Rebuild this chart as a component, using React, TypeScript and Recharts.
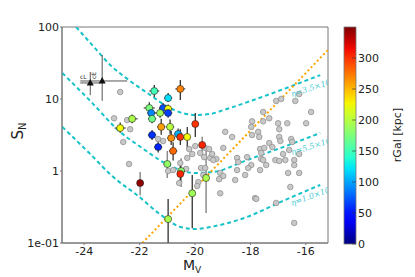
import React from 'react';
import { ComposedChart, Line, Scatter, XAxis, YAxis, ErrorBar, ReferenceArea } from 'recharts';

// field galaxies (grey)
const grayMV = [
  -22.7, -22.92, -22.45, -22.34, -22.59, -22.38, -21.33, -21.15, -20.97, -20.79,
  -20.53, -20.57, -20.21, -20.1, -20.28, -19.99, -19.63, -19.49, -19.81, -19.67,
  -19.45, -19.23, -20.32, -19.78, -19.63, -19.7, -19.88, -19.92, -19.09, -18.98,
  -19.13, -19.09, -19.38, -19.34, -18.91, -18.66, -18.98, -18.48, -18.12, -18.44,
  -17.97, -18.48, -18.19, -18.55, -17.94, -17.97, -17.94, -17.83, -17.72, -17.68,
  -17.65, -17.65, -17.61, -17.61, -17.54, -17.54, -17.43, -17.32, -17.32, -17.21,
  -17.07, -16.89, -16.38, -16.24, -15.81, -15.99, -17.0, -16.67, -16.96, -16.96,
  -16.92, -16.53, -16.49, -16.6, -17.1, -16.96, -16.74, -16.42, -16.42, -16.82,
  -16.24, -16.64, -16.24, -16.56, -17.07, -16.42, -17.79, -18.08, -17.54, -17.5,
];
const graySN = [
  12.5, 5.4, 5.1, 3.8, 2.53, 1.25, 2.78, 2.61, 1.0, 1.03,
  1.29, 0.68, 2.02, 1.72, 1.52, 2.22, 2.09, 2.02, 1.78, 1.56,
  1.52, 1.47, 1.07, 1.1, 1.1, 0.88, 0.7, 0.62, 0.94, 0.85,
  0.77, 0.49, 1.72, 1.42, 3.5, 2.97, 2.09, 1.52, 1.56, 1.33,
  1.21, 1.03, 0.88, 0.75, 4.9, 4.1, 3.16, 0.42, 3.5, 2.97,
  2.02, 1.03, 1.78, 1.47, 6.6, 4.9, 1.21, 5.4, 2.45, 2.15,
  9.4, 10, 9.4, 11.7, 6.6, 4.6, 4.6, 4.6, 3.8, 2.97,
  2.61, 2.78, 2.53, 1.96, 1.42, 1.38, 1.42, 1.42, 1.21, 1.72,
  1.72, 0.94, 0.94, 0.6, 0.36, 0.19, 0.41, 1.1, 1.42, 2.09,
];

// group galaxies, coloured by rGal
const grpMV = [
  -21.47, -20.53, -20.97, -21.65, -21.15, -20.97, -21.58, -21.26, -20.97, -21.55,
  -22.27, -22.7, -21.22, -20.9, -21.55, -20.61, -20.53, -20.86, -20.28, -19.99,
  -19.74, -21.33, -20.79, -21.0, -20.5, -20.53, -21.98, -19.6, -20.1, -20.97,
];
const grpSN = [
  12.9, 13.8, 10.3, 7.5, 7.5, 7.3, 6.4, 6.4, 6.4, 5.3,
  5.3, 3.95, 4.1, 4.1, 3.16, 3.27, 2.97, 2.87, 2.97, 4.5,
  2.3, 2.15, 1.9, 1.25, 1.0, 0.91, 0.68, 0.8, 0.49, 0.215,
];
const grpSNlo = [
  10.7, 9.7, 9.1, 6.5, 6.6, 6.2, 5.6, 5.5, 5.5, 4.6,
  4.6, 3.4, 3.2, 3.3, 2.7, 2.7, 2.3, 2.3, 1.96, 2.97,
  1.6, 1.8, 1.4, 0.8, 0.6, 0.7, 0.46, 0.26, 0.16, 0.1,
];
const grpSNhi = [
  15.7, 18.4, 12.1, 9.0, 8.8, 8.4, 7.3, 7.4, 7.4, 6.0,
  6.1, 4.7, 5.3, 5.2, 3.7, 3.9, 3.8, 3.6, 4.1, 6.4,
  3.0, 2.6, 2.5, 1.9, 1.5, 1.2, 0.97, 1.96, 0.88, 0.41,
];
const grpMVerr = [
  0.18, 0.18, 0.15, 0.2, 0.15, 0.15, 0.15, 0.2, 0.15, 0.15,
  0.2, 0.2, 0.15, 0.15, 0.15, 0.15, 0.15, 0.15, 0.1, 0.12,
  0.12, 0.15, 0.15, 0.15, 0.12, 0.12, 0.12, 0.1, 0.1, 0.1,
];
const grpRGal = [
  150, 270, 120, 175, 70, 225, 90, 190, 65, 170,
  195, 225, 260, 200, 60, 105, 300, 265, 225, 300,
  305, 55, 280, 185, 180, 305, 345, 195, 190, 195,
];
// 1 = error bar drawn in grey instead of black
const grpGreyBar = [
  0, 0, 0, 0, 0, 0, 0, 0, 0, 0,
  0, 0, 0, 0, 0, 0, 0, 0, 0, 0,
  1, 0, 0, 1, 1, 0, 1, 1, 0, 0,
];

// cL / cE reference points
const refMV = [-23.78, -23.35];
const refSN = [16.7, 17.8];
const refSNlo = [11.3, 9.4];
const refSNhi = [23.7, 40.8];
const refMVlo = [-24.14, -24.14];
const refMVhi = [-23.42, -22.45];

// model curves
const etaHighMV = [-24.29, -23.68, -23.06, -22.34, -21.62, -21.04, -20.46, -19.99, -19.45, -18.98, -17.79, -16.6, -15.48];
const etaHighSN = [100, 54.5, 29.7, 17.8, 11.4, 8.0, 6.4, 6.0, 6.2, 7.0, 10.0, 14.7, 21.5];
const etaMidMV = [-24.79, -23.78, -22.7, -21.91, -21.15, -20.53, -19.99, -19.34, -18.12, -16.82, -15.48];
const etaMidSN = [23, 9.4, 3.48, 2.09, 1.33, 1.03, 0.94, 0.97, 1.42, 2.15, 3.37];
const etaLowMV = [-24.79, -23.78, -22.99, -22.05, -21.26, -20.53, -19.99, -19.34, -18.12, -16.92, -15.48];
const etaLowSN = [4.1, 1.72, 0.85, 0.45, 0.25, 0.167, 0.156, 0.17, 0.23, 0.37, 0.64];
const lumMV = [-21.9, -15.2];
const lumSN = [0.1, 48];

const X_TICKS = [-24, -22, -20, -18, -16];
const Y_TICKS = [0.1, 1, 10, 100];
const CB_TICKS = [0, 50, 100, 150, 200, 250, 300];
const RGAL_MAX = 350;

const JET: Record<string, number[][]> = {
  r: [[0, 0], [0.35, 0], [0.66, 1], [0.89, 1], [1, 0.5]],
  g: [[0, 0], [0.125, 0], [0.375, 1], [0.64, 1], [0.91, 0], [1, 0]],
  b: [[0, 0.5], [0.11, 1], [0.34, 1], [0.65, 0], [1, 0]],
};

function seg(pts: number[][], t: number) {
  for (let i = 1; i < pts.length; i++) {
    if (t <= pts[i][0]) {
      const [x0, y0] = pts[i - 1];
      const [x1, y1] = pts[i];
      return y0 + ((t - x0) / (x1 - x0)) * (y1 - y0);
    }
  }
  return pts[pts.length - 1][1];
}

function jet(v: number) {
  const t = Math.max(0, Math.min(1, v / RGAL_MAX));
  const c = (k: string) => Math.round(seg(JET[k], t) * 255);
  return `rgb(${c('r')},${c('g')},${c('b')})`;
}

const zip = (xs: number[], ys: number[]) => xs.map((x, i) => ({ x, s: ys[i] }));

const grayData = zip(grayMV, graySN);
const grpData = grpMV.map((x, i) => ({
  x,
  s: grpSN[i],
  ey: [grpSN[i] - grpSNlo[i], grpSNhi[i] - grpSN[i]],
  ex: grpMVerr[i],
  rGal: grpRGal[i],
  grey: grpGreyBar[i],
}));
const grpBlack = grpData.filter((d) => !d.grey);
const grpGrey = grpData.filter((d) => d.grey);
const refData = refMV.map((x, i) => ({
  x,
  s: refSN[i],
  ey: [refSN[i] - refSNlo[i], refSNhi[i] - refSN[i]],
  ex: [x - refMVlo[i], refMVhi[i] - x],
}));

const grayDot = (p: any) => (
  <circle cx={p.cx} cy={p.cy} r={2.8} fill="#c8c8c8" stroke="#8a8a8a" strokeWidth={0.7} />
);
const grpDot = (p: any) => (
  <circle cx={p.cx} cy={p.cy} r={3.5} fill={jet(p.payload.rGal)} stroke="#222" strokeWidth={0.6} />
);
const refTri = (p: any) => (
  <polygon
    points={`${p.cx},${p.cy - 4} ${p.cx - 3.5},${p.cy + 2.5} ${p.cx + 3.5},${p.cy + 2.5}`}
    fill="#111"
  />
);

const CYAN = '#17c3c8';
const FONT = 'DejaVu Sans';

export default function App() {
  const cbTop = 27;
  const cbH = 217;
  return (
    <div style={{ position: 'absolute', left: 0, top: 0, width: 415, height: 277, background: '#fff', fontFamily: FONT }}>
      <ComposedChart width={415} height={277} margin={{ top: 27, right: 87, bottom: 4, left: 17 }}>
        <XAxis
          type="number"
          dataKey="x"
          domain={[-24.8, -15.2]}
          ticks={X_TICKS}
          allowDataOverflow
          height={30}
          stroke="#777"
          tickSize={2}
          tickMargin={2}
          tick={{ fontSize: 11, fill: '#222', fontFamily: FONT }}
        />
        <YAxis
          type="number"
          dataKey="s"
          scale="log"
          domain={[0.1, 100]}
          ticks={Y_TICKS}
          allowDataOverflow
          width={45}
          stroke="#777"
          tickSize={2}
          tickMargin={1}
          tickFormatter={(v: number) => (v === 0.1 ? '1e-01' : String(v))}
          tick={{ fontSize: 11, fill: '#222', fontFamily: FONT }}
        />
        <ReferenceArea x1={-24.8} x2={-15.2} y1={0.1} y2={100} fill="none" stroke="#777" />
        <Line data={zip(etaHighMV, etaHighSN)} dataKey="s" type="monotone" stroke={CYAN} strokeWidth={2} strokeDasharray="4 3" dot={false} isAnimationActive={false} />
        <Line data={zip(etaMidMV, etaMidSN)} dataKey="s" type="monotone" stroke={CYAN} strokeWidth={2} strokeDasharray="4 3" dot={false} isAnimationActive={false} />
        <Line data={zip(etaLowMV, etaLowSN)} dataKey="s" type="monotone" stroke={CYAN} strokeWidth={2} strokeDasharray="4 3" dot={false} isAnimationActive={false} />
        <Line data={zip(lumMV, lumSN)} dataKey="s" type="linear" stroke="#ffa500" strokeWidth={2} strokeDasharray="2 2.5" dot={false} isAnimationActive={false} />
        <Scatter data={grayData} dataKey="s" shape={grayDot} isAnimationActive={false} />
        <Scatter data={refData} dataKey="s" shape={refTri} isAnimationActive={false}>
          <ErrorBar dataKey="ey" direction="y" width={0} stroke="#555" strokeWidth={1} />
          <ErrorBar dataKey="ex" direction="x" width={0} stroke="#555" strokeWidth={1} />
        </Scatter>
        <Scatter data={grpGrey} dataKey="s" shape={grpDot} isAnimationActive={false}>
          <ErrorBar dataKey="ey" direction="y" width={0} stroke="#8c8c8c" strokeWidth={1.5} />
          <ErrorBar dataKey="ex" direction="x" width={0} stroke="#8c8c8c" strokeWidth={1} />
        </Scatter>
        <Scatter data={grpBlack} dataKey="s" shape={grpDot} isAnimationActive={false}>
          <ErrorBar dataKey="ey" direction="y" width={0} stroke="#222" strokeWidth={1.2} />
          <ErrorBar dataKey="ex" direction="x" width={0} stroke="#222" strokeWidth={1} />
        </Scatter>
      </ComposedChart>

      <svg width={415} height={277} style={{ position: 'absolute', left: 0, top: 0, pointerEvents: 'none' }} fontFamily={FONT}>
        <defs>
          <clipPath id="plotClip">
            <rect x={62} y={27} width={266} height={216} />
          </clipPath>
          <linearGradient id="jetGrad" x1="0" y1="1" x2="0" y2="0">
            {Array.from({ length: 21 }, (_, i) => (
              <stop key={i} offset={i / 20} stopColor={jet((i / 20) * RGAL_MAX)} />
            ))}
          </linearGradient>
        </defs>

        <g clipPath="url(#plotClip)" fill="#4ccbd2" fontSize={8} fontStyle="italic" fontFamily="DejaVu Serif">
          <text transform="translate(292,97) rotate(-18)">
            η=3.5×10<tspan dy={-3} fontSize={6}>−7</tspan>
          </text>
          <text transform="translate(292,155) rotate(-17)">
            η=5.5×10<tspan dy={-3} fontSize={6}>−8</tspan>
          </text>
          <text transform="translate(292,206) rotate(-20)">
            η=1.0×10<tspan dy={-3} fontSize={6}>−8</tspan>
          </text>
        </g>

        <text x={80} y={79} fontSize={6} fill="#333">cL</text>
        <text transform="translate(96,79) rotate(-90)" fontSize={6} fill="#333">cE</text>

        <text transform="translate(23,131) rotate(-90)" fontSize={15} fill="#222" textAnchor="middle">
          S<tspan fontSize={10} dy={3}>N</tspan>
        </text>
        <text x={183} y={270} fontSize={14} fill="#222">
          M<tspan fontSize={9} dy={3}>V</tspan>
        </text>

        <rect x={344} y={cbTop} width={12} height={cbH} fill="url(#jetGrad)" stroke="#777" strokeWidth={0.8} />
        {CB_TICKS.map((v) => {
          const y = cbTop + cbH - (v / RGAL_MAX) * cbH;
          return (
            <g key={v}>
              <line x1={352} x2={356} y1={y} y2={y} stroke="#333" strokeWidth={0.6} />
              <text x={358} y={y + 4} fontSize={11} fill="#222">{v}</text>
            </g>
          );
        })}
        <text transform="translate(401,135) rotate(-90)" fontSize={11} fill="#222" textAnchor="middle">
          rGal [kpc]
        </text>
      </svg>
    </div>
  );
}
